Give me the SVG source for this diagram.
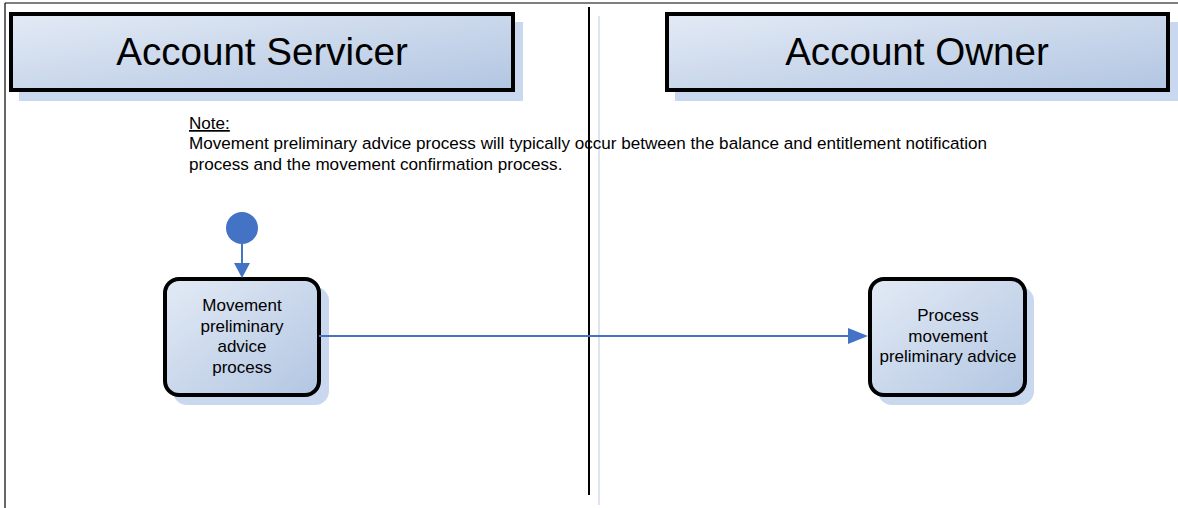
<svg xmlns="http://www.w3.org/2000/svg" width="1178" height="508" viewBox="0 0 1178 508">
<defs>
<linearGradient id="g" x1="0" y1="0" x2="1" y2="1">
<stop offset="0" stop-color="#e3eaf5"/>
<stop offset="1" stop-color="#b2c6e2"/>
</linearGradient>
</defs>
<style>
.hdr{fill:url(#g);stroke:#000;stroke-width:4}
.shadow{fill:#c9d8ee}
.node{fill:url(#g);stroke:#000;stroke-width:4}
.ht{font-family:"Liberation Sans",Arial,sans-serif;font-size:38.6px;fill:#000;text-anchor:middle}
.nt{font-family:"Liberation Sans",Arial,sans-serif;font-size:17px;fill:#000;text-anchor:middle}
.note{font-family:"Liberation Sans",Arial,sans-serif;font-size:17.1px;fill:#000}
.conn{stroke:#4472c4;stroke-width:2;fill:none}
.head{fill:#4472c4}
</style>
<rect width="1178" height="508" fill="#fff"/>
<g id="frame">
<line x1="5" y1="3" x2="1178" y2="3" stroke="#000" stroke-width="1.2"/>
<line x1="5" y1="3" x2="5" y2="508" stroke="#000" stroke-width="1.2"/>
<line x1="589" y1="7" x2="589" y2="495" stroke="#000" stroke-width="2"/>
<line x1="599" y1="16" x2="599" y2="505" stroke="#dde5f3" stroke-width="2"/>
</g>
<g id="lane-servicer">
<rect class="shadow" x="19" y="22" width="504" height="79"/>
<rect class="hdr" x="11" y="14" width="502" height="76"/>
<text class="ht" x="262" y="65">Account Servicer</text>
</g>
<g id="lane-owner">
<rect class="shadow" x="675" y="22" width="503" height="79"/>
<rect class="hdr" x="667" y="14" width="501" height="76"/>
<text class="ht" x="917" y="65">Account Owner</text>
</g>
<g id="note">
<text class="note" x="189" y="129" text-decoration="underline">Note:</text>
<text class="note" x="189" y="149">Movement preliminary advice process will typically occur between the balance and entitlement notification</text>
<text class="note" x="189" y="170">process and the movement confirmation process.</text>
</g>
<g id="start">
<circle cx="242" cy="228" r="16" fill="#4472c4"/>
</g>
<g id="node-movement">
<rect class="shadow" x="173" y="287" width="156" height="118" rx="14"/>
<rect class="node" x="165" y="279" width="154" height="116" rx="14"/>
<text class="nt" x="242" y="311">Movement</text>
<text class="nt" x="242" y="332">preliminary</text>
<text class="nt" x="242" y="352">advice</text>
<text class="nt" x="242" y="373">process</text>
</g>
<g id="node-process">
<rect class="shadow" x="878" y="287" width="156" height="118" rx="14"/>
<rect class="node" x="870" y="279" width="155" height="116" rx="14"/>
<text class="nt" x="948" y="321">Process</text>
<text class="nt" x="948" y="342">movement</text>
<text class="nt" x="948" y="362">preliminary advice</text>
</g>
<g id="connectors">
<line class="conn" x1="242" y1="244" x2="242" y2="263"/>
<path class="head" d="M234,263 L250,263 L242,278 z"/>
<line class="conn" x1="319" y1="336" x2="850" y2="336"/>
<path class="head" d="M848,328 L868,336 L848,344 z"/>
</g>
</svg>
